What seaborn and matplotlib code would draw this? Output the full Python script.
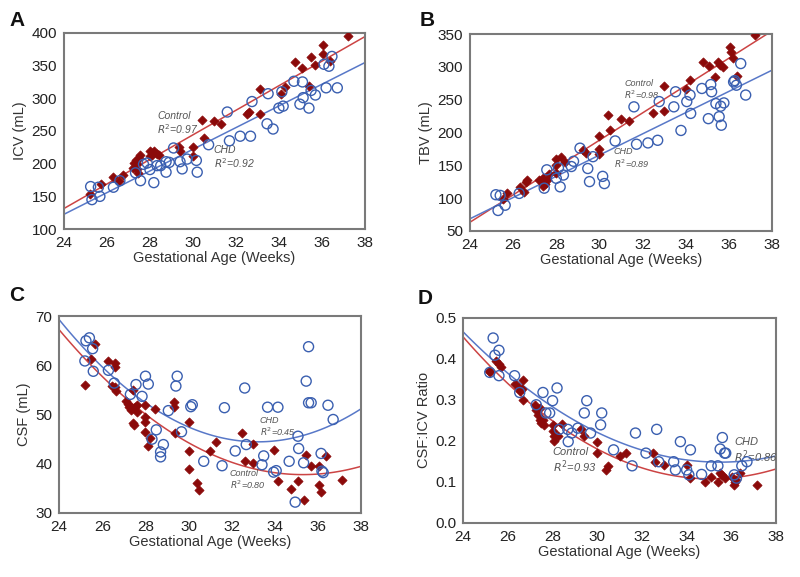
import numpy as np
import pandas as pd
import matplotlib
matplotlib.use("Agg")
import matplotlib.pyplot as plt
import seaborn as sns

sns.set_style("white")
plt.rcParams['font.family'] = ['Liberation Sans', 'DejaVu Sans']

# ---- Panel A: ICV ----
icv_ctrl_x = [25.21, 25.7, 26.3, 26.55, 26.75, 27.2, 27.25, 27.33, 27.4, 27.5, 27.56, 27.44, 27.4,
              28.0, 28.1, 28.18, 28.33, 28.44, 28.0, 29.34, 29.42, 30.0, 30.0, 30.42, 30.5,
              31.0, 31.3, 32.5, 32.6, 33.1, 33.1, 34.1, 34.3, 34.76, 35.07, 35.4, 35.5, 35.7,
              36.04, 36.04, 36.38, 37.2]
icv_ctrl_y = [153, 169, 179, 173, 182, 193, 201, 206, 199, 208, 214, 186, 192,
              219, 214, 219, 215, 214, 211, 226, 220, 225, 212, 267, 240,
              266, 261, 276, 279, 314, 276, 307, 318, 356, 347, 319, 363, 351,
              382, 367, 357, 396]
icv_chd_x = [25.24, 25.3, 25.6, 25.67, 26.3, 26.6, 27.33, 27.56, 27.7, 27.87, 28.0, 28.18,
             28.33, 28.5, 28.75, 28.75, 28.9, 29.1, 29.4, 29.5, 29.73, 30.16, 30.2, 30.73,
             31.6, 31.7, 32.2, 32.68, 32.75, 33.45, 33.73, 33.5, 34.0, 34.14, 34.2,
             34.7, 34.98, 35.1, 35.13, 35.4, 35.5, 35.7, 36.1, 36.2, 36.33, 36.47, 36.72]
icv_chd_y = [165, 145, 164, 150, 164, 174, 186, 174, 199, 201, 191, 171,
             197, 197, 203, 187, 202, 224, 203, 192, 207, 205, 187, 229,
             279, 235, 242, 242, 295, 261, 253, 307, 285, 310, 288,
             326, 291, 325, 301, 285, 312, 305, 352, 316, 349, 364, 316]

# ---- Panel B: TBV ----
tbv_ctrl_x = [25.52, 25.7, 26.32, 26.5, 26.6, 26.66, 27.22, 27.33, 27.4, 27.48, 27.56, 27.64, 27.4,
              28.0, 28.0, 28.0, 28.2, 28.4, 29.23, 29.38, 30.0, 30.0, 30.0, 30.42, 30.47,
              31.0, 31.35, 32.5, 33.0, 33.0, 34.0, 34.2, 34.8, 35.1, 35.38, 35.5, 35.6, 35.72,
              36.06, 36.1, 36.2, 36.38, 37.2]
tbv_ctrl_y = [98, 107, 117, 109, 124, 127, 127, 125, 130, 122, 127, 137, 119,
              160, 150, 138, 163, 155, 173, 169, 195, 175, 167, 226, 204,
              221, 217, 229, 271, 233, 266, 280, 307, 301, 285, 307, 303, 300,
              331, 323, 314, 286, 348]
tbv_chd_x = [25.2, 25.4, 25.3, 25.63, 26.28, 27.44, 27.56, 28.0, 28.18, 28.33, 28.1,
             28.7, 28.8, 29.1, 29.46, 29.54, 29.7, 30.15, 30.23, 30.73,
             31.6, 31.72, 32.25, 32.7, 32.77, 33.45, 33.53, 33.78, 34.05, 34.2, 34.23,
             34.75, 35.05, 35.16, 35.2, 35.4, 35.55, 35.62, 35.65, 35.77,
             36.22, 36.27, 36.35, 36.55, 36.78]
tbv_chd_y = [105, 104, 81, 89, 107, 115, 143, 130, 117, 135, 146,
             148, 156, 176, 145, 125, 163, 133, 122, 187,
             239, 182, 184, 188, 247, 239, 262, 203, 247, 257, 229,
             267, 221, 273, 262, 244, 224, 240, 211, 245,
             277, 279, 272, 305, 257]

# ---- Panel C: CSF ----
csf_ctrl_x = [25.19, 25.46, 25.66, 26.28, 26.43, 26.6, 26.6, 26.62, 26.6,
              27.1, 27.2, 27.25, 27.33, 27.4, 27.5, 27.4, 27.45, 27.6, 27.6,
              28.0, 28.0, 28.0, 28.0, 28.1, 28.2, 28.43, 29.3, 29.3, 29.37,
              30.0, 30.0, 30.0, 30.4, 30.47, 31.0, 31.25, 32.47, 32.6, 33.0, 33.0,
              33.94, 34.14, 34.75, 35.05, 35.33, 35.45, 35.65, 36.03, 36.03, 36.15, 36.37, 37.1]
csf_ctrl_y = [56.1, 61.3, 64.3, 60.8, 55.8, 60.4, 59.6, 54.7, 55.6,
              52.8, 52.1, 51.6, 50.9, 55.0, 51.6, 48.2, 47.9, 50.5, 51.9,
              51.9, 49.5, 48.5, 46.4, 43.6, 45.3, 51.2, 52.6, 51.6, 46.3,
              48.5, 42.5, 38.9, 36.1, 34.6, 42.5, 44.5, 46.3, 40.6, 44.0, 40.2,
              42.7, 36.5, 34.8, 36.5, 32.6, 41.7, 39.5, 39.5, 35.6, 34.2, 41.6, 36.6]
csf_chd_x = [25.19, 25.24, 25.4, 25.55, 25.58, 26.28, 26.55, 27.3, 27.56, 27.84, 28.0, 28.13,
             28.3, 28.5, 28.7, 28.7, 28.83, 29.06, 29.41, 29.47, 29.67, 30.1, 30.17,
             30.7, 31.55, 31.66, 32.16, 32.6, 32.67, 33.4, 33.48, 33.66, 33.94, 34.06, 34.14,
             34.66, 34.94, 35.07, 35.1, 35.33, 35.45, 35.56, 35.56, 35.68,
             36.14, 36.18, 36.24, 36.46, 36.7]
csf_chd_y = [60.9, 65.0, 65.6, 63.4, 58.8, 59.0, 56.4, 54.1, 56.1, 53.7, 57.8, 56.2,
             45.0, 46.9, 42.4, 41.4, 43.9, 50.8, 55.8, 57.8, 46.5, 51.6, 52.0,
             40.5, 39.6, 51.4, 42.6, 55.4, 43.9, 39.8, 41.6, 51.5, 38.3, 38.6, 51.5,
             40.5, 32.2, 45.6, 43.1, 40.2, 56.8, 63.8, 52.4, 52.4,
             42.1, 38.5, 38.2, 51.9, 49.0]

# ---- Panel D: CSF:ICV ratio ----
ratio_ctrl_x = [25.16, 25.2, 25.49, 25.6, 25.7, 26.3, 26.5, 26.56, 26.65, 26.68, 26.68,
                27.2, 27.27, 27.35, 27.42, 27.42, 27.5, 27.57, 27.6,
                28.0, 28.0, 28.06, 28.08, 28.24, 28.43, 29.28, 29.4,
                30.0, 30.0, 30.37, 30.47, 31.0, 31.3, 32.48, 32.6, 32.97,
                34.0, 34.17, 34.8, 35.07, 35.4, 35.48, 35.6, 35.7,
                36.05, 36.1, 36.17, 36.23, 36.38, 37.17]
ratio_ctrl_y = [0.370, 0.368, 0.394, 0.388, 0.380, 0.339, 0.329, 0.321, 0.327, 0.349, 0.300,
                0.288, 0.276, 0.263, 0.280, 0.251, 0.243, 0.251, 0.239,
                0.239, 0.223, 0.211, 0.200, 0.211, 0.240, 0.230, 0.211,
                0.198, 0.170, 0.129, 0.139, 0.162, 0.170, 0.170, 0.149, 0.140,
                0.140, 0.110, 0.099, 0.111, 0.099, 0.121, 0.117, 0.110,
                0.111, 0.092, 0.100, 0.104, 0.121, 0.091]
ratio_chd_x = [25.19, 25.34, 25.42, 25.6, 25.6, 26.3, 26.53, 27.27, 27.57, 27.7, 27.87, 28.0, 28.2,
               28.3, 28.68, 28.7, 28.86, 29.13, 29.42, 29.53, 29.7, 30.15, 30.2,
               30.73, 31.56, 31.71, 32.18, 32.66, 32.75, 33.42, 33.5, 33.72, 34.0, 34.17, 34.1,
               34.67, 35.1, 35.4, 35.5, 35.6, 35.7, 35.75, 36.13, 36.23, 36.47, 36.7]
ratio_chd_y = [0.367, 0.451, 0.409, 0.421, 0.359, 0.359, 0.318, 0.288, 0.318, 0.268, 0.268, 0.298, 0.329,
               0.228, 0.228, 0.198, 0.219, 0.231, 0.268, 0.298, 0.219, 0.239, 0.268,
               0.178, 0.139, 0.219, 0.170, 0.228, 0.149, 0.149, 0.129, 0.198, 0.129, 0.178, 0.117,
               0.118, 0.139, 0.139, 0.180, 0.208, 0.170, 0.170, 0.117, 0.109, 0.139, 0.149]

panels = [
    dict(letter="A", ylabel="ICV (mL)", ylim=(100, 400), yticks=np.arange(100, 401, 50),
         ctrl=(icv_ctrl_x, icv_ctrl_y), chd=(icv_chd_x, icv_chd_y), order=1, fmt="{:.0f}",
         rect=[0.080, 0.603, 0.376, 0.340], letter_pos=(0.012, 0.965),
         ctrl_txt=(28.35, 262, "Control", "0.97", 7.5), chd_txt=(30.97, 210, "CHD", "0.92", 7.5)),
    dict(letter="B", ylabel="TBV (mL)", ylim=(50, 350), yticks=np.arange(50, 351, 50),
         ctrl=(tbv_ctrl_x, tbv_ctrl_y), chd=(tbv_chd_x, tbv_chd_y), order=1, fmt="{:.0f}",
         rect=[0.5875, 0.600, 0.3775, 0.341], letter_pos=(0.524, 0.965),
         ctrl_txt=(31.15, 265, "Control", "0.98", 6.5), chd_txt=(30.66, 160, "CHD", "0.89", 6.5)),
    dict(letter="C", ylabel="CSF (mL)", ylim=(30, 70), yticks=np.arange(30, 71, 10),
         ctrl=(csf_ctrl_x, csf_ctrl_y), chd=(csf_chd_x, csf_chd_y), order=2, fmt="{:.0f}",
         rect=[0.074, 0.111, 0.3775, 0.341], letter_pos=(0.012, 0.488),
         ctrl_txt=(31.9, 36.7, "Control", "0.80", 6.5), chd_txt=(33.29, 47.5, "CHD", "0.45", 6.5)),
    dict(letter="D", ylabel="CSF:ICV Ratio", ylim=(0, 0.5), yticks=np.arange(0, 0.51, 0.1),
         ctrl=(ratio_ctrl_x, ratio_ctrl_y), chd=(ratio_chd_x, ratio_chd_y), order=2, fmt="{:.1f}",
         rect=[0.579, 0.094, 0.391, 0.355], letter_pos=(0.522, 0.483),
         ctrl_txt=(28.0, 0.151, "Control", "0.93", 8), chd_txt=(36.13, 0.175, "CHD", "0.86", 8)),
]

fig = plt.figure(figsize=(8, 5.77), dpi=100)

red_dot = "#8b0a0a"
red_line = "#cc4444"
blue_dot = "#3a5fb0"
blue_line = "#5878c8"
frame = "#7a7a7a"

for p in panels:
    ax = fig.add_axes(p["rect"])
    ax.set_xlim(24, 38)
    ax.set_ylim(*p["ylim"])
    cx, cy = p["ctrl"]
    hx, hy = p["chd"]
    df_c = pd.DataFrame({"age": cx, "val": cy})
    df_h = pd.DataFrame({"age": hx, "val": hy})

    sns.regplot(data=df_c, x="age", y="val", order=p["order"], ci=None, scatter=False,
                truncate=False, line_kws=dict(color=red_line, lw=1.1), ax=ax)
    sns.regplot(data=df_h, x="age", y="val", order=p["order"], ci=None, scatter=False,
                truncate=False, line_kws=dict(color=blue_line, lw=1.1), ax=ax)
    sns.scatterplot(data=df_c, x="age", y="val", marker="D", s=22, color=red_dot,
                    edgecolor=red_dot, linewidth=0.5, ax=ax, zorder=3)
    sns.scatterplot(data=df_h, x="age", y="val", marker="o", s=52, facecolor="none",
                    edgecolor=blue_dot, linewidth=1.0, ax=ax, zorder=4)

    ax.set_xlim(24, 38)
    ax.set_ylim(*p["ylim"])
    ax.set_xticks(np.arange(24, 39, 2))
    ax.set_yticks(p["yticks"])
    ax.set_yticklabels([p["fmt"].format(v) for v in p["yticks"]])
    ax.tick_params(axis="both", labelsize=11, length=3, width=0.8,
                   direction="out", pad=2, colors=frame, labelcolor="#222222")
    ax.set_xlabel("Gestational Age (Weeks)", fontsize=10.5, color="#333333", labelpad=1)
    ax.set_ylabel(p["ylabel"], fontsize=10.5, color="#333333", labelpad=3)
    for s in ax.spines.values():
        s.set_color(frame)
        s.set_linewidth(1.5)

    for tx, ty, name, r2, fs in (p["ctrl_txt"], p["chd_txt"]):
        ax.text(tx, ty, f"{name}\n$R^2$=" + r2, fontsize=fs, style="italic", color="#555555",
                ha="left", va="center", linespacing=1.1)

    fig.text(p["letter_pos"][0], p["letter_pos"][1], p["letter"], fontsize=15,
             fontweight="bold", ha="left", va="center", color="#111111")

fig.savefig("out.png", dpi=100)
